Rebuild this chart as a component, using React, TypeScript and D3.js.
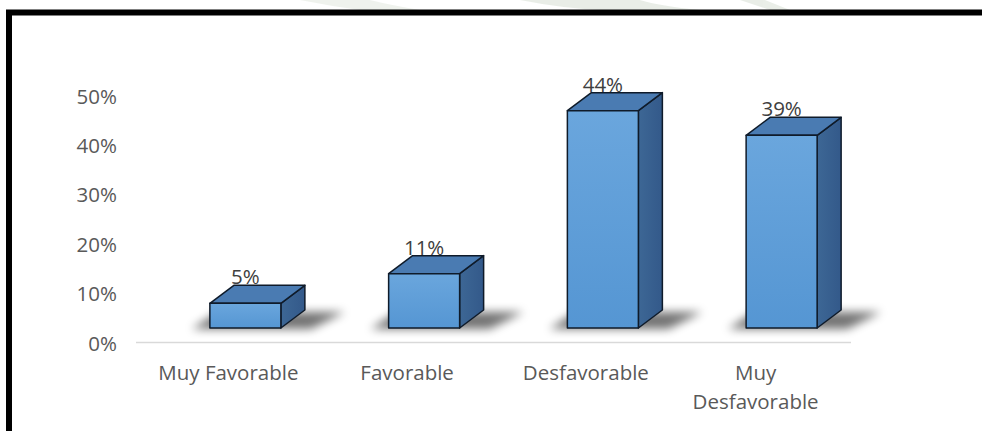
import React from "react";
import * as d3 from "d3";

const categories = ["Muy Favorable", "Favorable", "Desfavorable", "Muy Desfavorable"];
const values = [0.05, 0.11, 0.44, 0.39];
const valueLabels = ["5%", "11%", "44%", "39%"];
const tickValues = [0, 0.1, 0.2, 0.3, 0.4, 0.5];

const W = 982;
const H = 431;
const FONT = "'Open Sans', 'Liberation Sans', sans-serif";

export default function App() {
  const x = d3.scaleBand<string>().domain(categories).range([136, 851]).padding(0);
  const y = d3.scaleLinear().domain([0, 0.5]).range([342.5, 95.5]);
  const fmt = d3.format(".0%");
  const depthX = 24;
  const depthY = -18;
  const floorShift = 14.5;
  const barW = 71;
  const barOffset = 20;

  return (
    <svg width={W} height={H} style={{ position: "absolute", left: 0, top: 0, background: "#fff" }}>
      <defs>
        <linearGradient id="front" x1="0" y1="0" x2="0" y2="1">
          <stop offset="0" stopColor="#6aa6dd" />
          <stop offset="1" stopColor="#5596d3" />
        </linearGradient>
        <linearGradient id="side" x1="0" y1="0" x2="1" y2="0">
          <stop offset="0" stopColor="#3d6795" />
          <stop offset="1" stopColor="#33598a" />
        </linearGradient>
        <filter id="blur" x="-50%" y="-100%" width="200%" height="300%">
          <feGaussianBlur stdDeviation="5" />
        </filter>
      </defs>

      {/* faint watermark remnants above frame */}
      <g opacity={0.3}>
        <path d="M300,0 Q330,6 360,10 L420,10 Q390,5 370,0 Z" fill="#c9d4c4" />
        <path d="M520,0 Q560,8 600,10 L700,10 Q660,6 640,0 Z" fill="#b8c7b2" />
        <path d="M740,0 L770,10 L790,10 L765,0 Z" fill="#b8c7b2" />
      </g>

      {/* frame */}
      <rect x={9} y={12.5} width={1000} height={460} fill="#fff" stroke="#000" strokeWidth={6} />

      {/* y tick labels */}
      {tickValues.map((t) => (
        <text
          key={t}
          x={117}
          y={y(t)}
          textAnchor="end"
          dominantBaseline="central"
          fontFamily={FONT}
          fontSize={20.5}
          fill="#595959"
        >
          {fmt(t)}
        </text>
      ))}

      {/* baseline */}
      <line x1={136} x2={851} y1={y(0)} y2={y(0)} stroke="#d9d9d9" strokeWidth={1.5} />

      {/* bars */}
      {categories.map((c, i) => {
        const cx = (x(c) as number) + x.bandwidth() / 2 + barOffset;
        const l = cx - barW / 2;
        const r = cx + barW / 2;
        const b = y(0) - floorShift;
        const t = y(values[i]) - floorShift;
        const front = `M${l},${t}L${r},${t}L${r},${b}L${l},${b}Z`;
        const top = `M${l},${t}L${l + depthX},${t + depthY}L${r + depthX},${t + depthY}L${r},${t}Z`;
        const side = `M${r},${t}L${r + depthX},${t + depthY}L${r + depthX},${b + depthY}L${r},${b}Z`;
        const shadow = `M${l - 18},${b + 1}L${r + 30},${b + 1}L${r + depthX + 40},${b + depthY + 2}L${l + 8},${b + depthY + 2}Z`;
        return (
          <g key={c}>
            <path d={shadow} fill="#000" opacity={0.55} filter="url(#blur)" />
            <path d={side} fill="url(#side)" stroke="#0f1b2a" strokeWidth={1.5} strokeLinejoin="round" />
            <path d={top} fill="#4a7bb2" stroke="#0f1b2a" strokeWidth={1.5} strokeLinejoin="round" />
            <path d={front} fill="url(#front)" stroke="#0f1b2a" strokeWidth={1.5} strokeLinejoin="round" />
            <text
              x={cx}
              y={t - 19}
              textAnchor="middle"
              fontFamily={FONT}
              fontSize={20.5}
              fill="#404040"
            >
              {valueLabels[i]}
            </text>
          </g>
        );
      })}

      {/* category labels */}
      {categories.map((c) => {
        const cx = (x(c) as number) + x.bandwidth() / 2;
        const lines = c === "Muy Desfavorable" ? ["Muy", "Desfavorable"] : [c];
        return (
          <text key={c} textAnchor="middle" fontFamily={FONT} fontSize={20.5} fill="#595959">
            {lines.map((ln, j) => (
              <tspan key={j} x={cx - (lines.length > 1 ? 6 : 0) + (lines.length > 1 ? 0 : 3)} y={380 + j * 29}>
                {ln}
              </tspan>
            ))}
          </text>
        );
      })}
    </svg>
  );
}
